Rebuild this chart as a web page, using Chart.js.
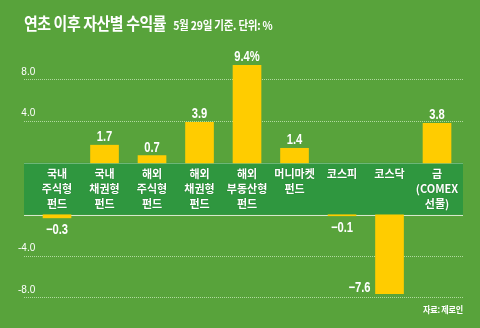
<!DOCTYPE html>
<html>
<head>
<meta charset="utf-8">
<script src="https://cdn.jsdelivr.net/npm/chart.js@4.4.1/dist/chart.umd.min.js"></script>
<style>
  html, body { margin: 0; padding: 0; background: #58a33b; }
  #wrap { position: relative; width: 480px; height: 328px; overflow: hidden; background: #58a33b; }
  #chart { position: absolute; left: 0; top: 0; }
  .title {
    position: absolute; left: 24px; top: 10px; color: #fff; white-space: nowrap;
    font-family: "Noto Sans CJK KR", sans-serif; font-weight: 700; font-size: 17px;
    letter-spacing: -0.5px; transform: scaleX(0.88); transform-origin: left center;
  }
  .title span { font-size: 12px; letter-spacing: -0.3px; margin-left: 8px; }
  .source {
    position: absolute; right: 17px; top: 302px; color: #fff; white-space: nowrap;
    font-family: "Noto Sans CJK KR", sans-serif; font-weight: 700; font-size: 9.5px;
    letter-spacing: -0.3px; transform: scaleX(0.85); transform-origin: right center;
  }
</style>
</head>
<body>
<div id="wrap">
  <canvas id="chart" width="480" height="328"></canvas>
  <div class="title">연초 이후 자산별 수익률<span>5월 29일 기준. 단위: %</span></div>
  <div class="source">자료: 제로인</div>
</div>
<script>
// Asset classes (multi-line labels) and year-to-date returns in %
const categories = [
	["국내", "주식형", "펀드"],
	["국내", "채권형", "펀드"],
	["해외", "주식형", "펀드"],
	["해외", "채권형", "펀드"],
	["해외", "부동산형", "펀드"],
	["머니마켓", "펀드"],
	["코스피"],
	["코스닥"],
	["금", "(COMEX", "선물)"],
];
const returns = [-0.3, 1.7, 0.7, 3.9, 9.4, 1.4, -0.1, -7.6, 3.8];
const tickValues = [8, 4, -4, -8];

// The label band sits between the positive and negative halves of the axis,
// so negative values are shifted down by the band height (in axis units)
const bandGap = 5;
const toAxis = (v) => (v >= 0 ? v : v - bandGap);
const fromAxis = (v) => (v > 0 ? v : v + bandGap);

const numFont = '"Liberation Sans", Arial, sans-serif';
const krFont = '"Noto Sans CJK KR", sans-serif';

/**
 * Draw the dark green label band with the category names in it
 */
const labelBand = {
	id: "labelBand",
	beforeDatasetsDraw(chart) {
		const { ctx, chartArea, scales } = chart;
		const top = scales.y.getPixelForValue(0);
		const bottom = scales.y.getPixelForValue(-bandGap);
		ctx.save();
		ctx.fillStyle = "#2f973f";
		ctx.fillRect(chartArea.left, top, chartArea.right - chartArea.left, bottom - top);
		ctx.fillStyle = "rgba(255,255,255,0.75)";
		ctx.fillRect(chartArea.left, Math.round(bottom), chartArea.right - chartArea.left, 1);
		ctx.fillStyle = "rgba(255,255,255,0.3)";
		ctx.fillRect(chartArea.left, Math.round(top), chartArea.right - chartArea.left, 1);

		ctx.font = "700 11px " + krFont;
		ctx.fillStyle = "#fff";
		ctx.textAlign = "center";
		ctx.textBaseline = "middle";
		ctx.shadowColor = "rgba(0,60,0,0.5)";
		ctx.shadowBlur = 1;
		categories.forEach((lines, i) => {
			const x = scales.x.getPixelForValue(i);
			lines.forEach((line, k) => {
				ctx.fillText(line, x, top + 11 + k * 15);
			});
		});
		ctx.restore();
	},
};

// numbers in the source are set in a condensed face
function condensedText(ctx, text, x, y, squeeze) {
	ctx.save();
	ctx.translate(x, y);
	ctx.scale(squeeze, 1);
	ctx.fillText(text, 0, 0);
	ctx.restore();
}

/**
 * Write the value of each bar above or below it
 */
const valueLabels = {
	id: "valueLabels",
	afterDatasetsDraw(chart) {
		const { ctx, chartArea } = chart;
		const meta = chart.getDatasetMeta(0);
		const maxValue = Math.max(...returns);
		ctx.save();
		ctx.font = "bold 14px " + numFont;
		ctx.fillStyle = "#fff";
		ctx.textBaseline = "alphabetic";
		meta.data.forEach((bar, i) => {
			const v = returns[i];
			let text = Math.abs(v).toFixed(1);
			if (v < 0) text = "\u2212" + text;
			if (v === maxValue) text += "%";
			if (v >= 0) {
				ctx.textAlign = "center";
				condensedText(ctx, text, bar.x, bar.y - 4, 0.8);
			} else if (bar.y + 20 > chartArea.bottom) {
				// no room below the bar, put it at its left side
				ctx.textAlign = "right";
				condensedText(ctx, text, bar.x - bar.width / 2 - 5, bar.y - 2, 0.8);
			} else {
				ctx.textAlign = "center";
				condensedText(ctx, text, bar.x, bar.y + 16.5, 0.8);
			}
		});
		ctx.restore();
	},
};

const ctx = document.getElementById("chart");
new Chart(ctx, {
	type: "bar",
	data: {
		datasets: [
			{
				data: returns.map((v, i) => ({ x: i, y: v >= 0 ? [0, v] : [-bandGap, toAxis(v)] })),
				backgroundColor: "#ffcc00",
				borderWidth: 0,
				barThickness: 28,
			},
		],
	},
	options: {
		responsive: false,
		animation: false,
		devicePixelRatio: 1,
		layout: { padding: { top: 59, bottom: 25, left: 24, right: 17 } },
		plugins: {
			legend: { display: false },
			tooltip: { enabled: false },
		},
		scales: {
			x: {
				type: "linear",
				min: -0.695,
				max: 8.547,
				offset: false,
				display: false,
			},
			y: {
				min: -13.5,
				max: 10,
				afterBuildTicks: (scale) => {
					scale.ticks = tickValues.map((v) => ({ value: toAxis(v) }));
				},
				// labels sit inside the plot, so the axis itself takes no room
				afterFit: (scale) => {
					scale.width = 0;
				},
				grid: {
					color: "rgba(235,255,225,0.6)",
					lineWidth: 1,
					drawTicks: false,
				},
				border: { display: false, dash: [1, 1] },
				ticks: {
					mirror: true,
					crossAlign: "far",
					padding: -6,
					labelOffset: -8,
					color: "#fff",
					font: { family: numFont, size: 10 },
					callback: (value) => fromAxis(value).toFixed(1),
				},
			},
		},
	},
	plugins: [labelBand, valueLabels],
});
</script>
</body>
</html>
